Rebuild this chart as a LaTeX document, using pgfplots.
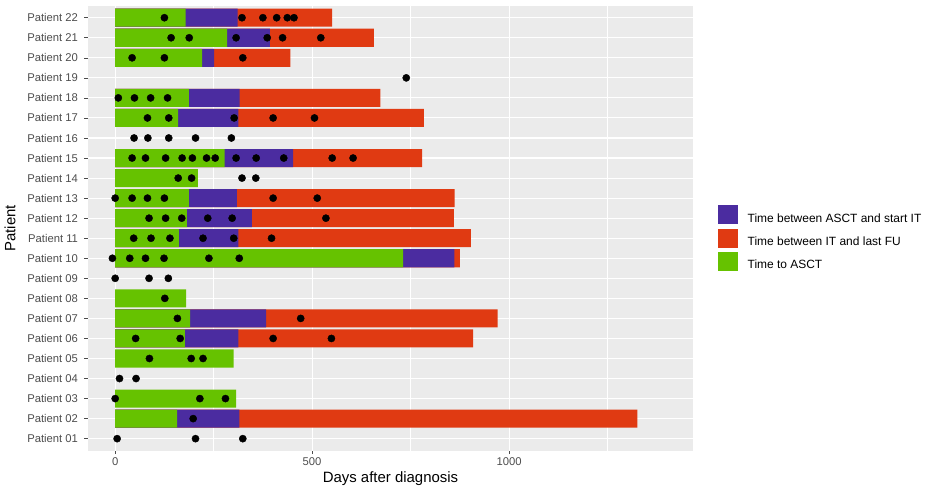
\documentclass[border=0pt]{standalone}
\usepackage{pgfplots}
\pgfplotsset{compat=1.18}
\usepackage{fontspec}
\setmainfont{Liberation Sans}
\definecolor{panelbg}{HTML}{EBEBEB}
\definecolor{cgreen}{HTML}{66C200}
\definecolor{cpurple}{HTML}{4B2CA0}
\definecolor{cred}{HTML}{E03A12}
\definecolor{ticktext}{HTML}{4D4D4D}
\begin{document}
\begin{tikzpicture}
\useasboundingbox (0,0) rectangle (930bp,491bp);
\begin{axis}[
  at={(88bp,40.3bp)}, anchor=south west,
  width=605bp, height=445bp, scale only axis,
  xmin=-69, xmax=1467, ymin=0.4, ymax=22.6,
  axis background/.style={fill=panelbg},
  axis line style={draw=none},
  xtick={0,500,1000}, xticklabels={0,500,1000},
  minor xtick={250,750,1250},
  ytick={1,...,22},
  yticklabels={Patient 01,Patient 02,Patient 03,Patient 04,Patient 05,Patient 06,Patient 07,Patient 08,Patient 09,Patient 10,Patient 11,Patient 12,Patient 13,Patient 14,Patient 15,Patient 16,Patient 17,Patient 18,Patient 19,Patient 20,Patient 21,Patient 22},
  xmajorgrids, xminorgrids, ymajorgrids,
  major grid style={white, line width=1.1bp},
  minor grid style={white, line width=0.55bp},
  tick pos=left,
  tick align=outside,
  major tick length=3.5bp,
  minor tick length=0pt,
  tick style={color=black!70, line width=0.6bp},
  tick label style={font=\fontsize{11.3}{13}\selectfont, text=ticktext},
  yticklabel style={xshift=-3bp},
  /pgf/number format/assume math mode=true,
  xlabel={Days after diagnosis}, ylabel={Patient},
  every axis x label/.style={at={(axis description cs:0.5,-0.0635)}, anchor=center, font=\fontsize{15}{17}\selectfont},
  every axis y label/.style={at={(axis description cs:-0.129,0.5)}, anchor=center, rotate=90, font=\fontsize{15}{17}\selectfont},
  legend image code/.code={\fill[#1, draw=none] (0bp,-5.5bp) rectangle (20bp,13.5bp); \path (27bp,0bp);},
  legend cell align=left,
  legend style={at={(axis description cs:1.0418,0.5516)}, anchor=north west,
    draw=none, fill=none, font=\fontsize{12}{14}\selectfont,
    row sep=2.5bp, inner sep=0pt},
]
% red: time between IT and last FU (drawn from 0, covered by later segments)
\addplot[xbar, bar width=0.9, bar shift=0pt, fill=cred, draw=none, forget plot] coordinates {
(551,22) (657,21) (445,20) (673,18) (784,17) (779,15) (862,13) (860,12) (903,11) (875,10) (971,7) (909,6) (1326,2)};
% purple: time between ASCT and start IT
\addplot[xbar, bar width=0.9, bar shift=0pt, fill=cpurple, draw=none, forget plot] coordinates {
(311,22) (393,21) (251,20) (316,18) (313,17) (452,15) (309,13) (347,12) (313,11) (861,10) (383,7) (313,6) (315,2)};
% green: time to ASCT
\addplot[xbar, bar width=0.9, bar shift=0pt, fill=cgreen, draw=none, forget plot] coordinates {
(179,22) (284,21) (221,20) (187,18) (160,17) (278,15) (210,14) (187,13) (182,12) (162,11) (731,10) (180,8) (190,7) (177,6) (301,5) (307,3) (157,2)};
% events
\addplot[only marks, mark=*, mark size=3.6bp, black, forget plot] table {
x y
125 22
322 22
375 22
410 22
437 22
454 22
142 21
188 21
307 21
386 21
425 21
522 21
43 20
125 20
324 20
739 19
8 18
49 18
90 18
133 18
82 17
136 17
302 17
401 17
506 17
48 16
83 16
136 16
204 16
295 16
43 15
77 15
128 15
170 15
196 15
232 15
254 15
307 15
358 15
428 15
551 15
604 15
160 14
194 14
322 14
357 14
0 13
43 13
82 13
125 13
401 13
513 13
86 12
128 12
169 12
235 12
297 12
535 12
47 11
91 11
139 11
223 11
301 11
397 11
-7 10
37 10
77 10
124 10
238 10
315 10
0 9
86 9
135 9
126 8
158 7
471 7
52 6
165 6
401 6
549 6
87 5
193 5
223 5
11 4
53 4
0 3
215 3
280 3
198 2
5 1
204 1
324 1
};
\addlegendimage{fill=cpurple}
\addlegendentry{Time between ASCT and start IT}
\addlegendimage{fill=cred}
\addlegendentry{Time between IT and last FU}
\addlegendimage{fill=cgreen}
\addlegendentry{Time to ASCT}
\end{axis}
\end{tikzpicture}
\end{document}
